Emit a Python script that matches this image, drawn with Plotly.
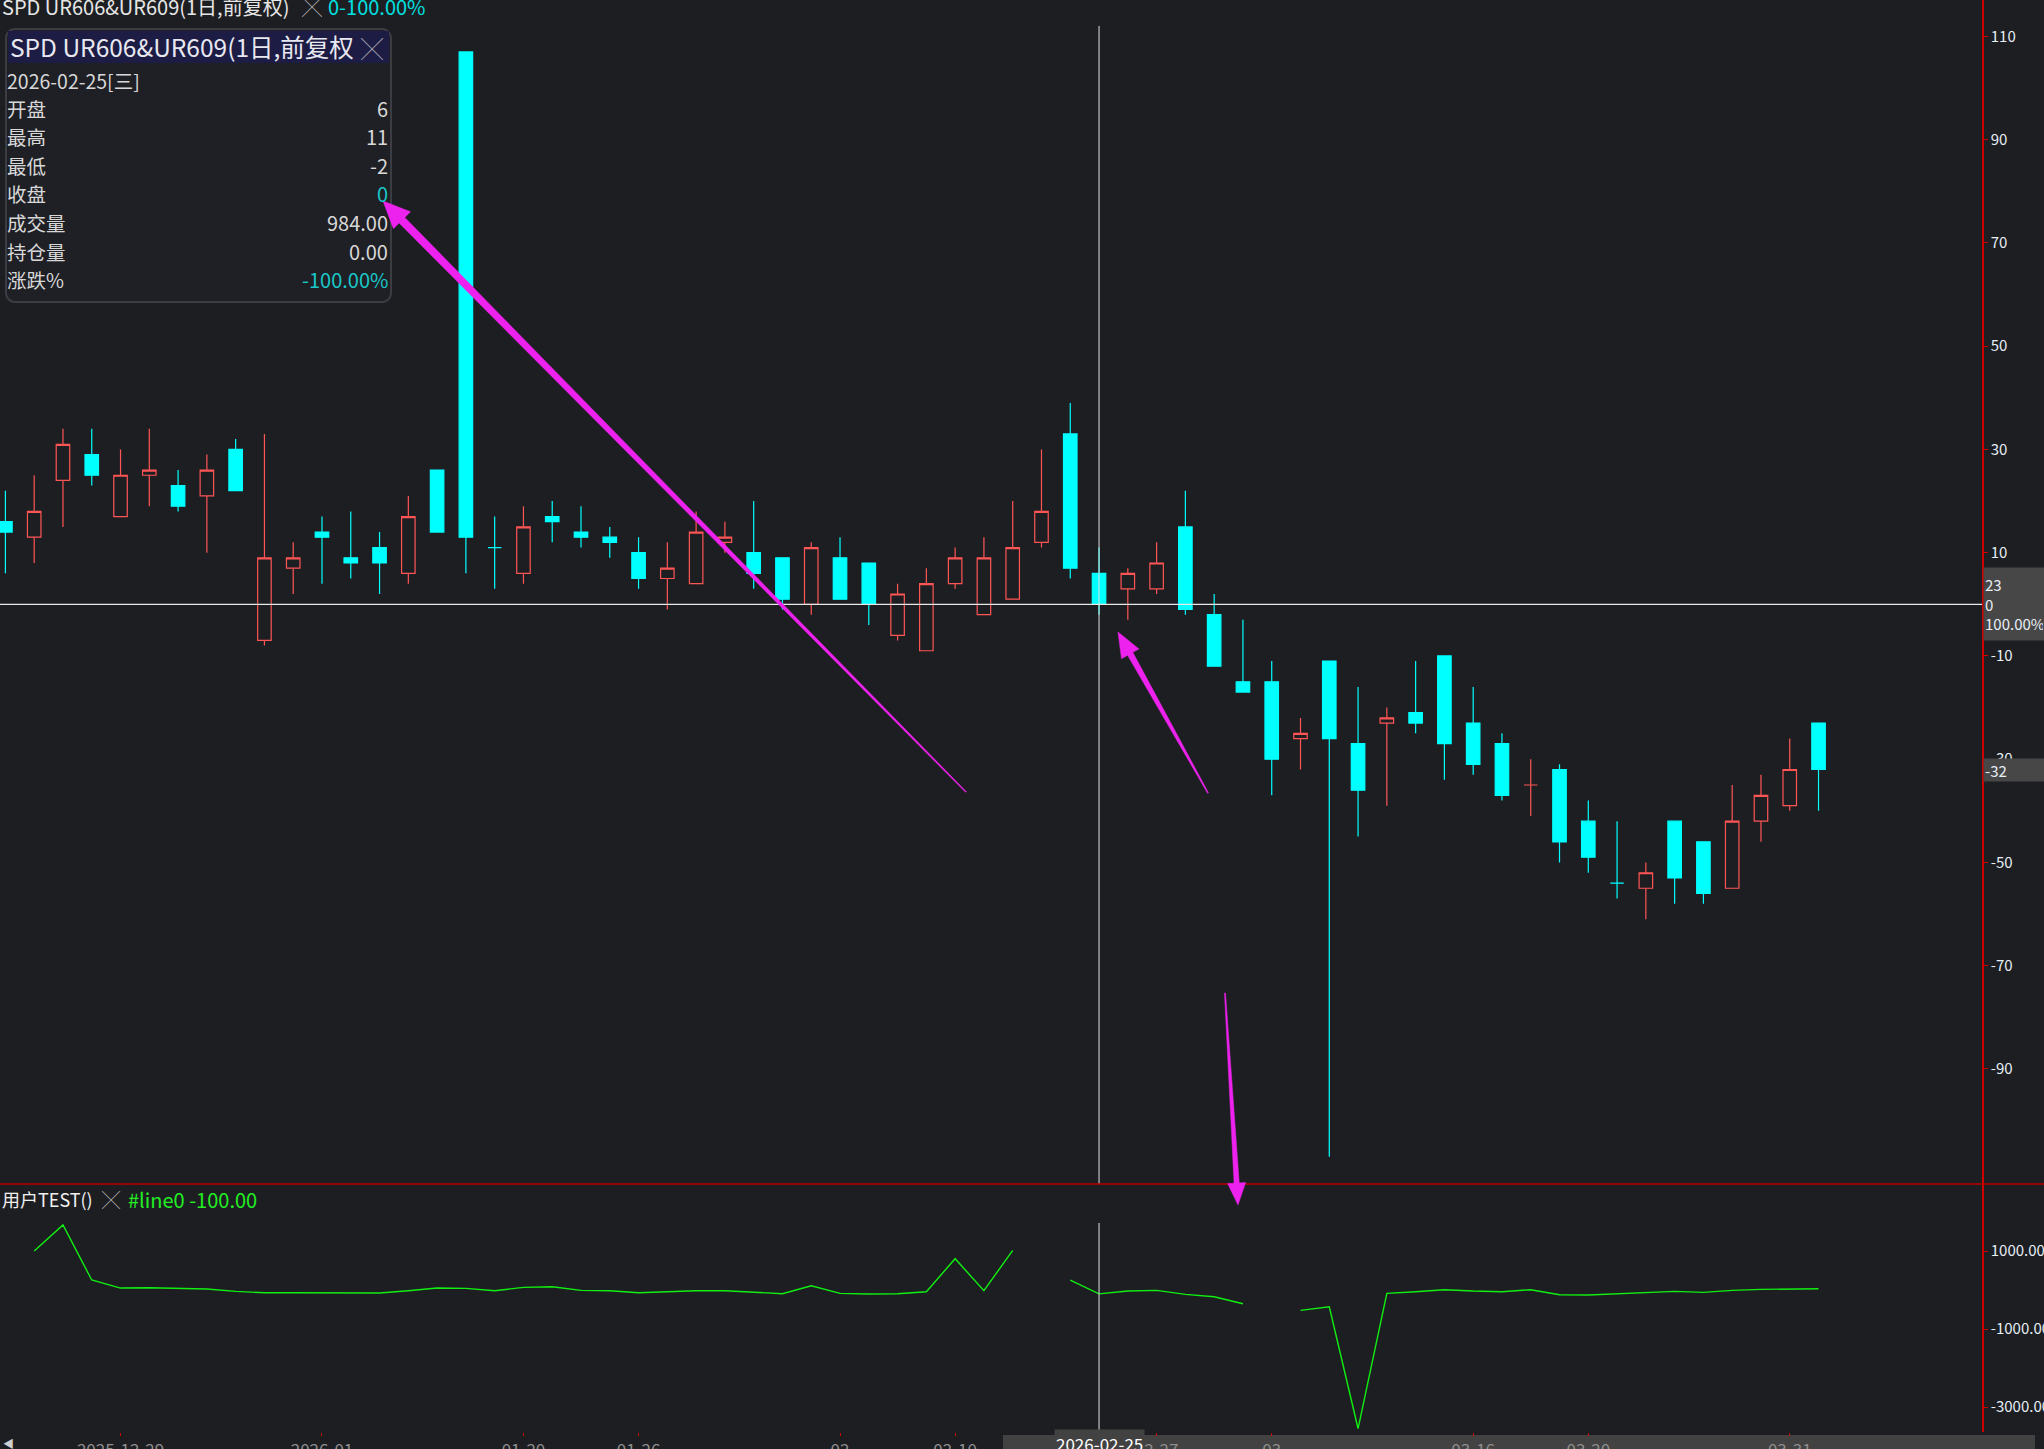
import math
import plotly.graph_objects as go

# ---------------- data ----------------
dates = [
    "2025-12-23", "2025-12-24", "2025-12-25", "2025-12-26", "2025-12-29", "2025-12-30", "2025-12-31",
    "2026-01-05", "2026-01-06", "2026-01-07", "2026-01-08", "2026-01-09", "2026-01-12", "2026-01-13",
    "2026-01-14", "2026-01-15", "2026-01-16", "2026-01-19", "2026-01-20", "2026-01-21", "2026-01-22",
    "2026-01-23", "2026-01-26", "2026-01-27", "2026-01-28", "2026-01-29", "2026-01-30", "2026-02-02",
    "2026-02-03", "2026-02-04", "2026-02-05", "2026-02-06", "2026-02-09", "2026-02-10", "2026-02-11",
    "2026-02-12", "2026-02-13", "2026-02-24", "2026-02-25", "2026-02-26", "2026-02-27", "2026-03-02",
    "2026-03-03", "2026-03-04", "2026-03-05", "2026-03-06", "2026-03-09", "2026-03-10", "2026-03-11",
    "2026-03-12", "2026-03-13", "2026-03-16", "2026-03-17", "2026-03-18", "2026-03-19", "2026-03-20",
    "2026-03-23", "2026-03-24", "2026-03-25", "2026-03-26", "2026-03-27", "2026-03-30", "2026-03-31",
    "2026-04-01",
]
opens = [16, 13, 24, 29, 17, 25, 23, 21, 30, -7, 7, 14, 9, 11, 6, 26, 107, 11, 6, 17, 14, 13, 10, 5,
         4, 12, 10, 9, 0, 9, 8, -6, -9, 4, -2, 1, 12, 33, 6, 3, 3, 15, -2, -15, -15, -26, -11, -27,
         -23, -21, -10, -23, -27, -35, -32, -42, -54, -55, -42, -46, -55, -42, -39, -23]
highs = [22, 25, 34, 34, 30, 34, 26, 29, 32, 33, 12, 17, 18, 14, 21, 26, 107, 17, 19, 20, 19, 15, 13, 12,
         18, 16, 20, 9, 12, 13, 8, 4, 7, 11, 13, 20, 30, 39, 11, 7, 12, 22, 2, -3, -11, -22, -11, -16,
         -20, -11, -10, -16, -25, -30, -31, -38, -42, -50, -42, -46, -35, -33, -26, -23]
lows = [6, 8, 15, 23, 17, 19, 18, 10, 22, -8, 2, 4, 5, 2, 4, 14, 6, 3, 4, 12, 11, 9, 3, -1,
        4, 10, 3, -1, -2, 1, -4, -7, -9, 3, -2, 1, 11, 5, -2, -3, 2, -2, -12, -17, -37, -32, -107, -45,
        -39, -25, -34, -33, -38, -41, -50, -52, -57, -61, -58, -58, -55, -46, -40, -40]
closes = [14, 18, 31, 25, 25, 26, 19, 26, 22, 9, 9, 13, 8, 8, 17, 14, 13, 11, 15, 16, 13, 12, 5, 7,
          14, 13, 6, 1, 11, 1, 0, 2, 4, 9, 9, 11, 18, 7, 0, 6, 8, -1, -12, -17, -30, -25, -26, -36,
          -22, -23, -27, -31, -37, -35, -46, -49, -54, -52, -53, -56, -42, -37, -32, -32]
line0 = [None, 1000, 1667, 256, 50, 59, 33, 25, -35, -70, -70, -70, -70, -78, -18, 50, 42, -18, 67, 84,
         -10, -18, -70, -35, -18, -18, -52, -95, 110, -87, -104, -95, -44, 803, -18, 1017, None, 256,
         -100, -27, -10, -112, -172, -352, None, -523, -429, -3552, -87, -44, 8, -27, -44, 8, -121, -129,
         -104, -78, -35, -61, -10, 16, 33, 33]

x_tick_dates = ["2025-12-29", "2026-01-09", "2026-01-20", "2026-01-26", "2026-02-04", "2026-02-10",
                "2026-02-27", "2026-03-05", "2026-03-16", "2026-03-20", "2026-03-31"]
x_tick_labels = ["2025-12-29", "2026-01", "01-20", "01-26", "02", "02-10",
                 "02-27", "03", "03-16", "03-20", "03-31"]
y_ticks = [110, 90, 70, 50, 30, 10, -10, -30, -50, -70, -90]
y2_ticks = [1000, -1000, -3000]
y2_tick_labels = ["1000.00", "-1000.00", "-3000.00"]

sel = 38  # crosshair bar (2026-02-25)
last_close = closes[-1]

# ---------------- geometry helpers ----------------
W, H = 2044, 1449
PL, PR, PT, PB = 0, 62, 0, 17
PW, PH = W - PL - PR, H - PT - PB  # 1982 x 1432
SPLIT = 1184


def px(xp):
    return (xp - PL) / PW


def py(yp):
    return 1 - (yp - PT) / PH


BG = "#1d1e22"
FONT = "Noto Sans CJK SC, Noto Sans, sans-serif"
UP = "#ff5555"
DOWN = "#00ffff"
MAG = "#ee22ee"

fig = go.Figure()
fig.add_trace(go.Candlestick(
    x=dates, open=opens, high=highs, low=lows, close=closes,
    increasing=dict(line=dict(color=UP, width=1.2), fillcolor=BG),
    decreasing=dict(line=dict(color=DOWN, width=1.2), fillcolor=DOWN),
    whiskerwidth=0, xaxis="x", yaxis="y", hoverinfo="skip", showlegend=False,
))
fig.add_trace(go.Scatter(
    x=dates, y=line0, mode="lines", line=dict(color="#11ee11", width=1.4),
    connectgaps=False, xaxis="x", yaxis="y2", hoverinfo="skip", showlegend=False,
))

dom_split = py(SPLIT)
shapes = []
# crosshair
shapes.append(dict(type="line", xref="x", yref="paper", x0=dates[sel], x1=dates[sel],
                   y0=dom_split, y1=py(26), line=dict(color="#e0e0e0", width=1)))
shapes.append(dict(type="line", xref="x", yref="paper", x0=dates[sel], x1=dates[sel],
                   y0=0, y1=py(1223), line=dict(color="#e0e0e0", width=1)))
shapes.append(dict(type="line", xref="paper", yref="y", x0=0, x1=1, y0=closes[sel], y1=closes[sel],
                   line=dict(color="#e8e8e8", width=1.2)))
# panel separator
shapes.append(dict(type="line", xref="paper", yref="paper", x0=0, x1=W / PW, y0=dom_split, y1=dom_split,
                   line=dict(color="#b80000", width=1.5)))
# scroll bar
shapes.append(dict(type="rect", xref="paper", yref="paper", x0=px(1003), x1=px(2035), y0=py(1460), y1=py(1435),
                   fillcolor="#424242", line=dict(width=0), layer="below"))


def rrect_path(x0, y0, x1, y1, r):
    pts = []
    segs = [((x1 - r, y0 + r), -90, 0), ((x1 - r, y1 - r), 0, 90), ((x0 + r, y1 - r), 90, 180), ((x0 + r, y0 + r), 180, 270)]
    for (cx, cy), a0, a1 in segs:
        for k in range(7):
            a = math.radians(a0 + (a1 - a0) * k / 6)
            pts.append((cx + r * math.cos(a), cy + r * math.sin(a)))
    return "M " + " L ".join(f"{px(a):.5f},{py(b):.5f}" for a, b in pts) + " Z"


# info box
shapes.append(dict(type="path", xref="paper", yref="paper", path=rrect_path(6, 29, 391, 302, 9),
                   fillcolor="#1f2025", line=dict(color="#3c3d43", width=2), layer="above"))
shapes.append(dict(type="rect", xref="paper", yref="paper", x0=px(8), x1=px(389), y0=py(63), y1=py(31),
                   fillcolor="#1c1c44", line=dict(width=0), layer="above"))


def arrow_path(tail, tip, w0, w1, hl, hw):
    dx, dy = tip[0] - tail[0], tip[1] - tail[1]
    L = math.hypot(dx, dy)
    ux, uy = dx / L, dy / L
    nx, ny = -uy, ux
    nk = (tip[0] - ux * hl, tip[1] - uy * hl)
    pts = [(tail[0] + nx * w0, tail[1] + ny * w0), (nk[0] + nx * w1, nk[1] + ny * w1),
           (nk[0] + nx * hw, nk[1] + ny * hw), tip, (nk[0] - nx * hw, nk[1] - ny * hw),
           (nk[0] - nx * w1, nk[1] - ny * w1), (tail[0] - nx * w0, tail[1] - ny * w0)]
    return "M " + " L ".join(f"{px(a):.5f},{py(b):.5f}" for a, b in pts) + " Z"


for tail, tip, w1, hl, hw in [((966, 792), (383, 201), 4.0, 27, 12),
                              ((1208, 793), (1118, 632), 3.0, 25, 10),
                              ((1225, 993), (1238, 1205), 2.6, 22, 9)]:
    shapes.append(dict(type="path", xref="paper", yref="paper", path=arrow_path(tail, tip, 0.5, w1, hl, hw),
                       fillcolor=MAG, line=dict(color=MAG, width=0.5), layer="above"))

ann = []


def text(xp, yp, t, size, color, xanchor="left", **kw):
    ann.append(dict(xref="paper", yref="paper", x=px(xp), y=py(yp), text=t, showarrow=False,
                    xanchor=xanchor, yanchor="middle", font=dict(family=FONT, size=size, color=color), **kw))


# top header
text(0, 6, "SPD UR606&UR609(1日,前复权)", 20, "#e6e6e6")
text(300, 6, "╳", 20, "#b0b0b0")
text(326, 6, "0-100.00%", 20, "#00e0e0")
# info box content
text(8, 47, "SPD UR606&UR609(1日,前复权", 24.5, "#e8e8f0")
text(359, 47, "╳", 22, "#a0a0a8")
rows = [("开盘", str(opens[sel]), "#d8d8d8"), ("最高", str(highs[sel]), "#d8d8d8"),
        ("最低", str(lows[sel]), "#d8d8d8"), ("收盘", str(closes[sel]), "#19c8c8"),
        ("成交量", "984.00", "#d8d8d8"), ("持仓量", "0.00", "#d8d8d8"), ("涨跌%", "-100.00%", "#19c8c8")]
text(5, 80, "2026-02-25[三]", 19.5, "#d8d8d8")
for i, (lab, val, col) in enumerate(rows):
    yy = 108 + i * 28.6
    text(5, yy, lab, 19.5, "#d8d8d8")
    text(390, yy, val, 20, col, xanchor="right")
# lower panel header
text(0, 1199, "用户TEST()", 18, "#f0f0f0")
text(100, 1199, "╳", 18, "#b0b0b0")
text(126, 1199, "#line0 -100.00", 20, "#22ee22")
# right axis boxes
ann.append(dict(xref="paper", yref="paper", x=1.0005, y=py(603.5), text="23<br>0<br>100.00%", showarrow=False,
                xanchor="left", yanchor="middle", align="left", bgcolor="#474747", width=58, height=70,
                font=dict(family=FONT, size=15, color="#e8eef6")))
ann.append(dict(xref="paper", yref="y", x=1.0005, y=last_close, text=str(last_close), showarrow=False,
                xanchor="left", yanchor="middle", align="left", bgcolor="#474747", width=58, height=20,
                font=dict(family=FONT, size=15, color="#e8eef6")))
# crosshair date label
ann.append(dict(xref="x", yref="paper", x=dates[sel], y=py(1443), text=dates[sel], showarrow=False,
                xanchor="center", yanchor="middle", bgcolor="#424242",
                font=dict(family=FONT, size=17, color="#ffffff")))
text(1, 1443, "◀", 11, "#d0d0d0")

fig.update_layout(
    width=W, height=H, template="none",
    margin=dict(l=PL, r=PR, t=PT, b=PB, autoexpand=False),
    paper_bgcolor=BG, plot_bgcolor=BG, showlegend=False, boxgap=0.33,
    font=dict(family=FONT, color="#e6eef6"),
    xaxis=dict(type="category", range=[-0.188, 68.68], anchor="y2", domain=[0, 1],
               rangeslider=dict(visible=False), showgrid=False, zeroline=False, showline=False,
               tickmode="array", tickvals=x_tick_dates, ticktext=x_tick_labels,
               ticks="outside", ticklen=3, tickcolor="#d00000", tickwidth=1,
               tickfont=dict(family=FONT, size=17, color="#8e8e8e"), automargin=False),
    yaxis=dict(domain=[dom_split, 1], range=[-112.29, 117.06], side="right", anchor="x",
               showgrid=False, zeroline=False, showline=True, linecolor="#d00000", linewidth=1.5,
               tickmode="array", tickvals=y_ticks, ticktext=[str(v) for v in y_ticks],
               ticks="outside", ticklen=4, tickcolor="#d00000",
               tickfont=dict(family=FONT, size=15, color="#e6eef6"), automargin=False),
    yaxis2=dict(domain=[0, dom_split], range=[-3641, 2718], side="right", anchor="x",
                showgrid=False, zeroline=False, showline=True, linecolor="#d00000", linewidth=1.5,
                tickmode="array", tickvals=y2_ticks, ticktext=y2_tick_labels,
                ticks="outside", ticklen=4, tickcolor="#d00000",
                tickfont=dict(family=FONT, size=15, color="#e6eef6"), automargin=False),
    shapes=shapes, annotations=ann,
)

fig.write_html("out.html", config={"displayModeBar": False},
               post_script="document.body.style.margin='0';document.body.style.overflow='hidden';")
